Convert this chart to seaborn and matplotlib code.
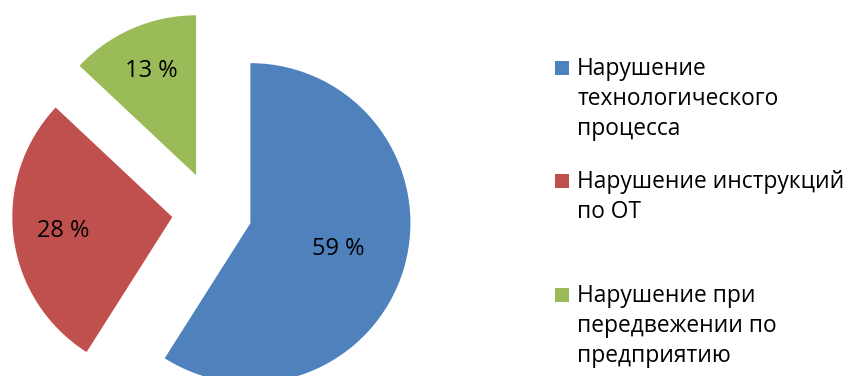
import matplotlib
matplotlib.use("Agg")
import numpy as np
import matplotlib.pyplot as plt
from matplotlib.patches import Rectangle
import seaborn as sns

# Causes of violations and their shares, %
categories = [
    "Нарушение\nтехнологического\nпроцесса",
    "Нарушение инструкций\nпо ОТ",
    "Нарушение при\nпередвежении по\nпредприятию",
]
shares = [59, 28, 13]
colors = ["#4F81BD", "#C0504D", "#9BBB59"]

sns.set_theme(style="white")
plt.rcParams["font.family"] = ["Open Sans", "DejaVu Sans"]

W, H = 846, 376
fig = plt.figure(figsize=(W / 100, H / 100), dpi=100)
ax = fig.add_axes([0, 0, 1, 1])

# Pie: every slice pulled out from the common centre by the same distance
radius = 160
center = (212, H - 212)
wedges, _ = ax.pie(
    shares,
    colors=colors,
    startangle=90,
    counterclock=False,
    explode=[40] * len(shares),
    radius=radius,
    center=center,
    wedgeprops=dict(linewidth=0),
)
ax.set_xlim(0, W)
ax.set_ylim(0, H)
ax.set_aspect("equal")
ax.axis("off")

# Percentage labels inside each slice
label_dist = [0.57, 0.69, 0.71]
for w, v, d in zip(wedges, shares, label_dist):
    tm = np.deg2rad((w.theta1 + w.theta2) / 2)
    cx, cy = w.center
    ax.text(cx + d * radius * np.cos(tm), cy + d * radius * np.sin(tm),
            f"{v} %", ha="center", va="center", fontsize=17, color="black")

# Legend: square swatch followed by a wrapped caption
legend_x = 555
text_x = 577
first_baseline = 75
entry_gap = 113.5
line_pitch = 30
for i, (lab, col) in enumerate(zip(categories, colors)):
    base = first_baseline + i * entry_gap
    ax.add_patch(Rectangle((legend_x, H - base + 0.5), 14, 14,
                           facecolor=col, edgecolor="none"))
    for j, line in enumerate(lab.split("\n")):
        ax.text(text_x, H - (base + j * line_pitch), line,
                ha="left", va="baseline", fontsize=16.4, color="black")

fig.savefig("out.png", dpi=100)
